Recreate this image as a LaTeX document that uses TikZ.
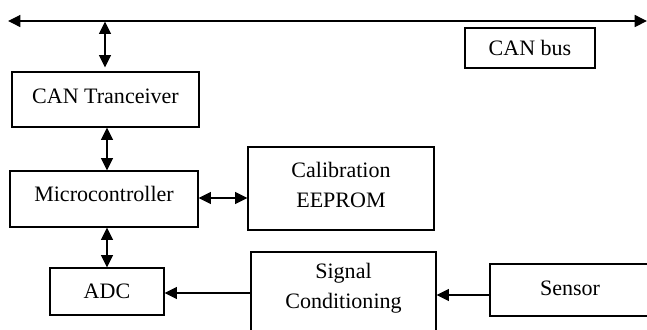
\documentclass[tikz,border=0pt]{standalone}
\usepackage{fontspec}
\setmainfont{Liberation Serif}
\usetikzlibrary{arrows.meta}
\begin{document}
\begin{tikzpicture}[x=0.03cm,y=-0.03cm,
  box/.style={draw=black,line width=1pt,inner sep=0pt,align=center,font=\fontsize{18.8}{25.5}\selectfont},
  lbl/.style={inner sep=0pt,align=center,font=\fontsize{18.8}{25.5}\selectfont},
  conn/.style={line width=1.1pt,{Triangle[length=0.37cm,width=0.36cm]}-{Triangle[length=0.37cm,width=0.36cm]}},
  oneway/.style={line width=1.1pt,-{Triangle[length=0.37cm,width=0.36cm]}}]
\useasboundingbox (0,0) rectangle (647,329);
\clip (0,0) rectangle (647,329);
\fill[white] (0,0) rectangle (647,329);
% boxes
\node[box,minimum width={187*0.03cm},minimum height={55*0.03cm}] (cant) at (105.5,99.5) {};
\node[lbl] (cantt) at (105.5,96) {CAN Tranceiver};
\node[box,minimum width={188*0.03cm},minimum height={56*0.03cm}] (micro) at (104,199) {};
\node[lbl] (microt) at (104,194) {Microcontroller};
\node[box,minimum width={186*0.03cm},minimum height={83*0.03cm}] (calib) at (341,188.5) {};
\node[lbl] (calibt) at (341,185) {Calibration\\EEPROM};
\node[box,minimum width={114*0.03cm},minimum height={47*0.03cm}] (adc) at (107,291.5) {};
\node[lbl] (adct) at (107,291) {ADC};
\node[box,minimum width={185*0.03cm},minimum height={93*0.03cm}] (sigc) at (343.5,298.5) {};
\node[lbl] (sigct) at (343.5,288) {Signal\\Conditioning};
\node[box,minimum width={175*0.03cm},minimum height={52*0.03cm}] (sensor) at (577.5,290) {};
\node[lbl] (sensort) at (570,288) {Sensor};
\node[box,minimum width={130*0.03cm},minimum height={40*0.03cm}] (canbus) at (530,48) {CAN bus};
% bus
\coordinate (busL) at (8,21);
\coordinate (busR) at (647,21);
\draw[conn] (busL) -- (busR);
\coordinate (tap) at (105,21);
\draw[conn] ([yshift=-0.5pt]tap) -- ([yshift=4*0.03cm]tap |- cant.north);
\draw[conn] ([xshift=1.5*0.03cm]cant.south) -- ([xshift=3*0.03cm]micro.north);
\draw[conn] ([xshift=3*0.03cm]micro.south) -- (adc.north);
\draw[conn] (micro.east |- 0,198) -- (calib.west |- 0,198);
\draw[oneway] (sigc.west |- 0,293) -- (adc.east |- 0,293);
\draw[oneway] (sensor.west |- 0,295) -- (sigc.east |- 0,295);
\end{tikzpicture}
\end{document}
